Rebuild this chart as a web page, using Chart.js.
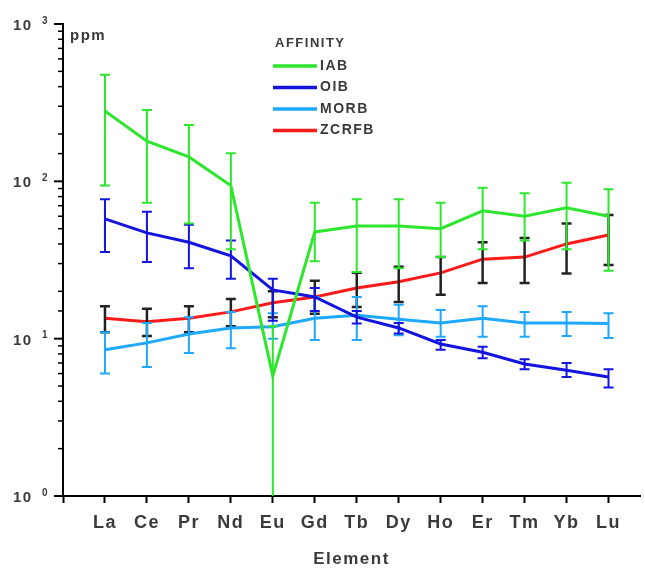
<!DOCTYPE html>
<html>
<head>
<meta charset="utf-8">
<script src="https://cdn.jsdelivr.net/npm/chart.js@4"></script>
<style>
  body { margin: 0; background: #fff; }
</style>
</head>
<body>
<canvas id="ree-chart" width="645" height="572"></canvas>
<script>
// REE patterns (ppm), mean with upper / lower error limits
const elements = ['La', 'Ce', 'Pr', 'Nd', 'Eu', 'Gd', 'Tb', 'Dy', 'Ho', 'Er', 'Tm', 'Yb', 'Lu'];

const iab   = [280, 180, 143, 94, 5.8, 47.7, 52, 52, 50, 65, 60, 68, 60];
const iabHi = [475, 284, 228, 151, 12, 73, 77, 77, 73, 91, 84, 98, 89];
const iabLo = [94, 73, 54, 37, 0.5, 31, 26.5, 28, 33, 37, 42, 37, 27];

const oib   = [57.7, 47, 41, 33.6, 20.4, 18.4, 13.7, 11.7, 9.25, 8.2, 6.9, 6.3, 5.7];
const oibHi = [77, 64, 53, 42, 24, 21, 15, 12.6, 9.8, 8.9, 7.4, 7.0, 6.4];
const oibLo = [35.6, 30.7, 28, 24, 13, 15, 12.5, 10.8, 8.5, 7.5, 6.4, 5.7, 4.9];

const morb   = [8.5, 9.4, 10.7, 11.7, 11.9, 13.5, 14.1, 13.3, 12.6, 13.5, 12.6, 12.6, 12.5];
const morbHi = [11, 12.6, 13.7, 14.8, 14.5, 18.4, 18.4, 16.4, 15.2, 16.1, 14.8, 14.8, 14.5];
const morbLo = [6.0, 6.6, 8.1, 8.7, 10, 9.8, 9.8, 10.5, 10.3, 10.3, 10.3, 10.4, 10.1];

const zcrfb   = [13.5, 12.8, 13.5, 14.8, 16.9, 18.4, 21, 23, 26.2, 32, 33, 40, 45.6];
const zcrfbHi = [16.1, 15.5, 16.1, 17.9, 20, 23.3, 26.2, 28.6, 33, 41, 43.6, 54, 61];
const zcrfbLo = [11, 10.4, 11, 12, 13.7, 14.4, 15.9, 17.1, 19, 22.6, 22.6, 26, 29.4];

// decade ticks on the log axis: value -> exponent shown above "10"
const yDecades = [1, 10, 100, 1000];
const yExponents = ['0', '1', '2', '3'];

const FONT = '"Liberation Sans", Arial, sans-serif';
const TEXT = '#3a3a3a';

function makeSet(label, values, hi, lo, color, barColor) {
    return {
        label: label,
        data: values.map((v, i) => ({ x: i, y: v })),
        hi: hi,
        lo: lo,
        barColor: barColor || color,
        borderColor: color,
        backgroundColor: color,
        borderWidth: 3,
        pointRadius: 0,
        tension: 0,
        fill: false
    };
}

// vertical error bars with caps, drawn right after each line
const errorBars = {
    id: 'errorBars',
    afterDatasetDraw(chart, args) {
        const ds = chart.data.datasets[args.index];
        const { ctx, chartArea, scales } = chart;
        ctx.save();
        ctx.beginPath();
        ctx.rect(chartArea.left, chartArea.top, chartArea.right - chartArea.left, chartArea.bottom - chartArea.top);
        ctx.clip();
        ctx.strokeStyle = ds.barColor;
        ctx.lineWidth = ds.barColor === '#222222' ? 2.5 : 2;
        ds.data.forEach((p, i) => {
            const x = scales.x.getPixelForValue(p.x);
            const yHi = scales.y.getPixelForValue(ds.hi[i]);
            const yLo = Math.min(scales.y.getPixelForValue(ds.lo[i]), chartArea.bottom);
            ctx.beginPath();
            ctx.moveTo(x, yHi);
            ctx.lineTo(x, yLo);
            ctx.moveTo(x - 5, yHi);
            ctx.lineTo(x + 5, yHi);
            if (yLo < chartArea.bottom) {
                ctx.moveTo(x - 5, yLo);
                ctx.lineTo(x + 5, yLo);
            }
            ctx.stroke();
        });
        ctx.restore();
    }
};

// slightly spaced-out lettering for every label on the canvas
const spacing = {
    id: 'spacing',
    beforeDraw(chart) {
        chart.ctx.letterSpacing = '1.5px';
    }
};

// log-axis ticks with 10^n labels, unit label and the legend box
const extras = {
    id: 'extras',
    afterDraw(chart) {
        const { ctx, chartArea, scales } = chart;
        const y = scales.y;
        ctx.save();
        ctx.strokeStyle = '#000';
        y.ticks.forEach(t => {
            const major = yDecades.includes(t.value);
            const py = y.getPixelForValue(t.value);
            ctx.lineWidth = major ? 2 : 1.5;
            ctx.beginPath();
            ctx.moveTo(chartArea.left, py);
            ctx.lineTo(chartArea.left - (major ? 9 : 5), py);
            ctx.stroke();
        });

        ctx.letterSpacing = '1.5px';
        ctx.fillStyle = TEXT;
        ctx.textBaseline = 'middle';
        ctx.textAlign = 'left';
        yDecades.forEach((v, i) => {
            const py = y.getPixelForValue(v);
            ctx.font = 'bold 15px ' + FONT;
            ctx.fillText('10', 13, py + 2);
            ctx.font = 'bold 10px ' + FONT;
            ctx.fillText(yExponents[i], 42, py - 3);
        });

        ctx.font = 'bold 15px ' + FONT;
        ctx.fillText('ppm', 70, 36);

        const lx = 273;
        ctx.font = 'bold 13px ' + FONT;
        ctx.fillText('AFFINITY', lx + 2, 43);
        ctx.font = 'bold 14px ' + FONT;
        chart.data.datasets.forEach((ds, i) => {
            const ly = 66 + i * 21.5;
            ctx.strokeStyle = ds.borderColor;
            ctx.lineWidth = 3.5;
            ctx.beginPath();
            ctx.moveTo(lx, ly);
            ctx.lineTo(lx + 44, ly);
            ctx.stroke();
            ctx.fillStyle = TEXT;
            ctx.fillText(ds.label, lx + 47, ly);
        });
        ctx.restore();
    }
};

new Chart(document.getElementById('ree-chart'), {
    type: 'line',
    data: {
        datasets: [
            makeSet('IAB', iab, iabHi, iabLo, '#2ee62e'),
            makeSet('OIB', oib, oibHi, oibLo, '#1414e0'),
            makeSet('MORB', morb, morbHi, morbLo, '#1ea8ff'),
            makeSet('ZCRFB', zcrfb, zcrfbHi, zcrfbLo, '#ff1a1a', '#222222')
        ]
    },
    options: {
        responsive: false,
        animation: false,
        layout: { padding: { top: 24, right: 5, left: 0, bottom: 0 } },
        plugins: {
            legend: { display: false },
            tooltip: { enabled: false }
        },
        scales: {
            x: {
                type: 'linear',
                min: -1,
                max: 12.75,
                afterFit: s => { s.height = 76; },
                border: { display: true, color: '#000', width: 2 },
                grid: { display: true, drawOnChartArea: false, drawTicks: true, tickLength: 7, tickColor: '#000', tickWidth: 2 },
                ticks: {
                    stepSize: 1,
                    includeBounds: false,
                    autoSkip: false,
                    maxRotation: 0,
                    padding: 9,
                    color: TEXT,
                    font: { family: FONT, size: 18, weight: 'bold' },
                    callback: v => elements[Math.round(v)] || ''
                },
                title: {
                    display: true,
                    text: 'Element',
                    color: TEXT,
                    font: { family: FONT, size: 17, weight: 'bold' },
                    padding: { top: 0, bottom: 2 }
                }
            },
            y: {
                type: 'logarithmic',
                min: 1,
                max: 1000,
                afterFit: s => { s.width = 63; },
                border: { display: true, color: '#000', width: 2 },
                grid: { display: true, drawOnChartArea: false, drawTicks: false },
                ticks: {
                    autoSkip: false,
                    display: false
                }
            }
        }
    },
    plugins: [spacing, errorBars, extras]
});
</script>
</body>
</html>
